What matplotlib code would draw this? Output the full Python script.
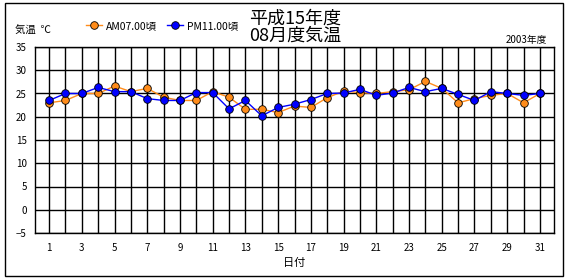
import matplotlib
matplotlib.use("Agg")
import matplotlib.pyplot as plt
from matplotlib.patches import Rectangle

plt.rcParams['font.family'] = ['Noto Sans CJK JP', 'DejaVu Sans']

# daily temperatures, August 2003
days = list(range(1, 32))
am07 = [23.0, 23.5, 25.0, 25.0, 26.6, 25.4, 26.1, 24.2, 23.5, 23.5,
        25.4, 24.2, 21.6, 21.6, 20.9, 22.3, 22.0, 24.1, 25.5, 25.2,
        25.0, 25.4, 25.8, 27.6, 26.1, 23.0, 23.9, 24.6, 25.0, 23.0, 25.0]
pm11 = [23.5, 25.0, 25.0, 26.3, 25.4, 25.4, 23.9, 23.5, 23.5, 25.2,
        25.2, 21.7, 23.5, 20.2, 22.0, 22.7, 23.7, 25.0, 25.1, 25.9,
        24.6, 25.1, 26.3, 25.4, 26.1, 24.8, 23.5, 25.4, 25.0, 24.6, 25.0]
yticks = [-5, 0, 5, 10, 15, 20, 25, 30, 35]

fig = plt.figure(figsize=(5.7, 2.8), dpi=100)
ax = fig.add_axes([35/570, 1-233/280, (554-35)/570, (233-47)/280])

# outer frame of the whole chart
fig.patches.append(Rectangle((5/570, 1-276/280), 558/570, 273/280,
                             transform=fig.transFigure, fill=False,
                             edgecolor='black', linewidth=1))

ax.plot(days, am07, color='#FF8C1A', linewidth=1, marker='o', markersize=5.5,
        markerfacecolor='#FF8C1A', markeredgecolor='black', markeredgewidth=0.6,
        label='AM07.00頃', zorder=3)
ax.plot(days, pm11, color='#0000FF', linewidth=1, marker='o', markersize=5.5,
        markerfacecolor='#0000FF', markeredgecolor='black', markeredgewidth=0.6,
        label='PM11.00頃', zorder=4)

ax.set_xlim(0.14, 31.86)
ax.set_ylim(-5, 35)
ax.set_yticks(yticks)
ax.set_xticks(days, minor=True)
ax.set_xticks(days[::2])
ax.grid(True, which='both', axis='x', color='black', linewidth=1)
ax.grid(True, which='major', axis='y', color='black', linewidth=1)
ax.tick_params(which='both', length=0, labelsize=7)
ax.tick_params(axis='x', pad=7)
ax.tick_params(axis='y', pad=6)
for s in ax.spines.values():
    s.set_linewidth(1)

ax.set_xlabel('日付', fontsize=8, labelpad=4)

fig.text(295/570, 1-27/280, '平成15年度\n08月度気温', ha='center', va='center',
         fontsize=13, linespacing=0.9)
fig.text(15/570, 1-31/280, '気温  ℃', ha='left', va='center', fontsize=7.5)
fig.text(547/570, 1-40/280, '2003年度', ha='right', va='center', fontsize=7)

ax.legend(loc='center left', bbox_to_anchor=(86/570, 1-26/280),
          bbox_transform=fig.transFigure, ncol=2, frameon=False, fontsize=7.5,
          handlelength=1.5, handletextpad=0.4, columnspacing=1.0,
          borderpad=0, borderaxespad=0)

fig.savefig('out.png', dpi=100)
